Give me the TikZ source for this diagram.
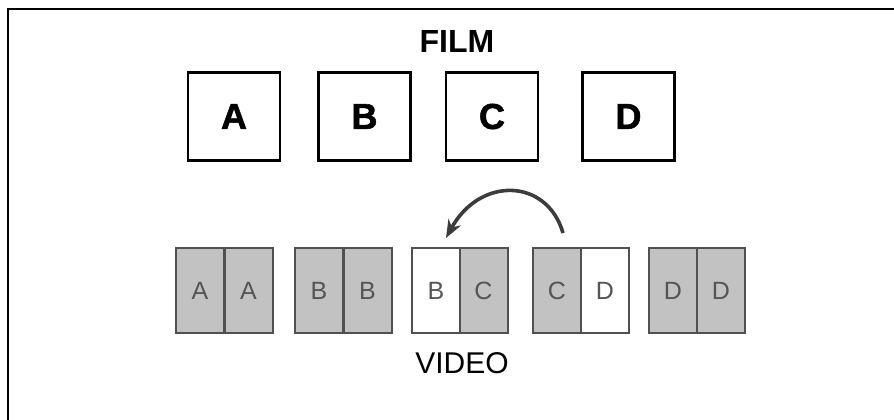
\documentclass[tikz,border=0pt]{standalone}
\usepackage{fontspec}
\setmainfont{Liberation Sans}
\newfontfamily\heavyfont[FakeBold=1.5]{Liberation Sans Bold}
\usetikzlibrary{arrows.meta}
\definecolor{framegray}{HTML}{C2C2C2}
\definecolor{edgegray}{HTML}{505050}
\definecolor{textgray}{HTML}{555555}
\definecolor{arrowgray}{HTML}{3C3C3C}
\begin{document}
\begin{tikzpicture}[x=1pt,y=-1pt,
  filmbox/.style={draw=black,line width=2.4pt,fill=white,minimum width=92pt,minimum height=88pt,inner sep=0pt,
    font=\fontsize{36}{36}\heavyfont},
  half/.style={draw=edgegray,line width=2pt,minimum width=48pt,minimum height=85pt,inner sep=0pt,
    text=textgray,font=\fontsize{25}{25}\selectfont},
  shaded/.style={half,fill=framegray},
  blank/.style={half,fill=white},
  title/.style={font=\fontsize{32}{32}\selectfont\bfseries,inner sep=0pt},
  subtitle/.style={font=\fontsize{30}{30}\selectfont,inner sep=0pt},
  swap/.style={draw=arrowgray,line width=3.6pt,-{Stealth[length=18pt,width=14pt]}}]
\useasboundingbox (0,0) rectangle (894,420);
\fill[white] (0,0) rectangle (894,420);
\draw[line width=2.2pt] (8,420) -- (8,9) -- (894,9);
% Film
\node[title] (film) at (457,41) {FILM};
\node[filmbox] (fa) at (234,116.5) {A};
\node[filmbox] (fb) at (364.5,116.5) {B};
\node[filmbox] (fc) at (492,116.5) {C};
\node[filmbox] (fd) at (628.5,116.5) {D};
% Video frames
\node[shaded] (v1) at (200,290.5) {A};
\node[shaded] (v2) at (248.5,290.5) {A};
\node[shaded] (v3) at (319,290.5) {B};
\node[shaded] (v4) at (367.5,290.5) {B};
\node[blank]  (v5) at (436,290.5) {B};
\node[shaded] (v6) at (483.5,290.5) {C};
\node[shaded] (v7) at (557,290.5) {C};
\node[blank]  (v8) at (605,290.5) {D};
\node[shaded] (v9) at (673,290.5) {D};
\node[shaded] (v10) at (721,290.5) {D};
\node[subtitle] (video) at (462,363.5) {VIDEO};
% Arrow
\coordinate (from) at (563,233);
\coordinate (to) at (446,238);
\draw[swap] (from) .. controls (547,178) and (480,176) .. (to);
\end{tikzpicture}
\end{document}
